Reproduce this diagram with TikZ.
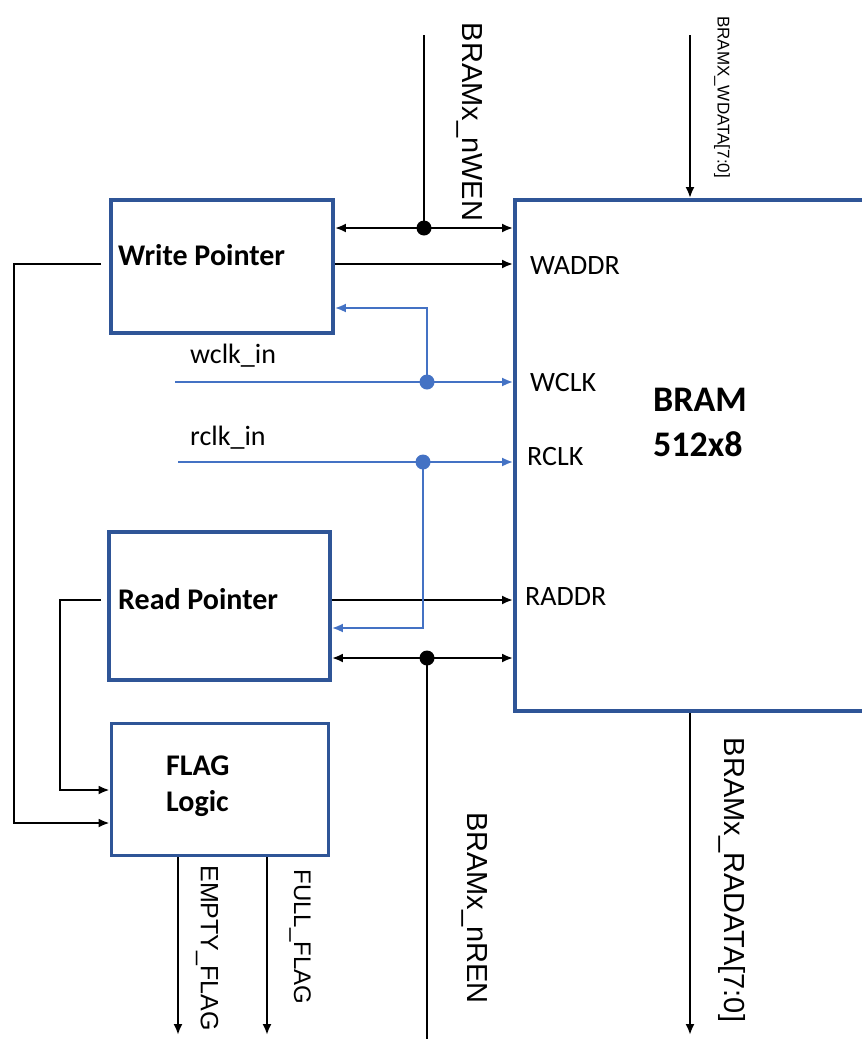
\documentclass[tikz,border=0pt]{standalone}
\usepackage{fontspec}
\setmainfont{Carlito}
\newfontfamily\pinfont{Liberation Sans}
\usetikzlibrary{arrows.meta,calc}
\definecolor{boxblue}{RGB}{47,85,151}
\definecolor{clkblue}{RGB}{68,114,196}

\begin{document}
\begin{tikzpicture}[x=1pt,y=-1pt,
  blk/.style={draw=boxblue, line width=3.8pt, inner sep=0pt},
  wire/.style={line width=2.4pt, black},
  clk/.style={line width=2pt, clkblue},
  tip/.style={-{Latex[length=11pt,width=9pt]}},
  both/.style={{Latex[length=11pt,width=9pt]}-{Latex[length=11pt,width=9pt]}},
  dot/.style={circle, fill=#1, inner sep=0pt, minimum size=15pt},
  port/.style={font=\fontsize{28}{32}\selectfont, anchor=west, inner sep=0pt},
  title/.style={font=\fontsize{30}{36}\selectfont\bfseries, anchor=west, inner sep=0pt, align=left},
  pin/.style={font=\pinfont\fontsize{#1}{#1}\selectfont, rotate=-90, inner sep=0pt}]
  \useasboundingbox (0,0) rectangle (862,1039);

  % blocks
  \node[blk, minimum width=222pt, minimum height=133pt] (wp) at (222,266.5) {};
  \node[blk, minimum width=221pt, minimum height=148pt] (rp) at (219.5,606) {};
  \node[blk, minimum width=217pt, minimum height=132pt] (flag) at (220,789.5) {};
  \node[blk, minimum width=355pt, minimum height=511pt] (bram) at (692.5,455.5) {};
  \node[title] (wptext) at (118,255) {Write Pointer};
  \node[title] (rptext) at (118,599) {Read Pointer};
  \node[title] (flagtext) at (166,786) {FLAG\\Logic};
  \node[title, font=\fontsize{36}{45}\selectfont\bfseries] (bramtext) at (653,422) {BRAM\\512x8};

  % bram ports
  \node[port] (waddr) at (530,266) {WADDR};
  \node[port] (wclk) at (530,383) {WCLK};
  \node[port] (rclk) at (527,457) {RCLK};
  \node[port] (raddr) at (525,597) {RADDR};
  \node[port] (wclkin) at (190,356) {wclk\_in};
  \node[port] (rclkin) at (190,438) {rclk\_in};

  % rows
  \coordinate (wrow) at (0,264);
  \coordinate (rrow) at (0,600);
  \node[dot=black] (wen) at (424,228) {};
  \node[dot=black] (ren) at (427,658) {};
  \node[dot=clkblue] (wck) at (427,382) {};
  \node[dot=clkblue] (rck) at (423,462) {};

  % write side
  \draw[wire] (424,35) -- (wen.center);
  \draw[wire, both] (wp.east |- wen) -- (bram.west |- wen);
  \draw[wire, tip] (690,35) -- (bram.north -| 690,0);
  \draw[wire, tip] (wp.east |- wrow) -- (bram.west |- wrow);
  \draw[wire, tip] ($(wp.west |- wrow)+(-8,0)$) -| (14,823) -- (flag.west |- 0,823);

  % read side
  \draw[wire] (427,1039) -- (ren.center);
  \draw[wire, both] (rp.east |- ren) -- (bram.west |- ren);
  \draw[wire, tip] (rp.east |- rrow) -- (bram.west |- rrow);
  \draw[wire, tip] ($(rp.west |- rrow)+(-6,0)$) -| (60,790) -- (flag.west |- 0,790);
  \draw[wire, tip] (bram.south -| 690,0) -- (690,1035);
  \draw[wire, tip] (flag.south -| 178,0) -- (178,1035);
  \draw[wire, tip] (flag.south -| 267,0) -- (267,1035);

  % clocks
  \draw[clk, tip] (175,382) -- (bram.west |- wck);
  \draw[clk, tip] (wck.center) -- (427,308) -- (wp.east |- 0,308);
  \draw[clk, tip] (178,462) -- (bram.west |- rck);
  \draw[clk, tip] (rck.center) -- (423,628) -- (rp.east |- 0,628);

  % pin names
  \node[pin=29] (nwen) at (470,122) {BRAMx\_nWEN};
  \node[pin=17] (wdata) at (722,97) {BRAMX\_WDATA[7:0]};
  \node[pin=29] (nren) at (475,908) {BRAMx\_nREN};
  \node[pin=29] (radata) at (732,880) {BRAMx\_RADATA[7:0]};
  \node[pin=25] (empty) at (207,948) {EMPTY\_FLAG};
  \node[pin=24] (full) at (300,937) {FULL\_FLAG};
\end{tikzpicture}
\end{document}
